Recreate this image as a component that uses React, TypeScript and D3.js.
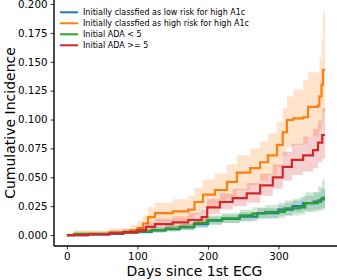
import { useEffect, useRef } from 'react'
import * as d3 from 'd3'

// step curves: [day, estimate, lower, upper]
const lowRisk: [number, number, number, number][] = [
  [0, 0, 0, 0], [30, 0.0005, 0, 0.002], [60, 0.001, 0.0002, 0.003], [80, 0.002, 0.0008, 0.004],
  [100, 0.0028, 0.0012, 0.005], [120, 0.004, 0.002, 0.0065], [140, 0.005, 0.003, 0.008],
  [160, 0.0065, 0.004, 0.0095], [180, 0.0095, 0.006, 0.013], [200, 0.0125, 0.009, 0.016],
  [220, 0.014, 0.0105, 0.0175], [245, 0.016, 0.012, 0.02], [270, 0.019, 0.0145, 0.0235],
  [300, 0.022, 0.017, 0.028], [320, 0.025, 0.0195, 0.031], [335, 0.0277, 0.021, 0.034],
  [350, 0.029, 0.022, 0.037], [360, 0.031, 0.023, 0.04], [366, 0.031, 0.023, 0.04],
]
const highRisk: [number, number, number, number][] = [
  [0, 0, 0, 0], [10, 0.001, 0, 0.004], [60, 0.002, 0.0005, 0.006], [90, 0.004, 0.001, 0.009],
  [100, 0.006, 0.002, 0.012], [108, 0.01, 0.005, 0.017], [115, 0.0155, 0.008, 0.024],
  [125, 0.019, 0.011, 0.028], [150, 0.0205, 0.012, 0.031], [172, 0.022, 0.013, 0.034],
  [181, 0.0286, 0.018, 0.041], [193, 0.035, 0.023, 0.048], [210, 0.039, 0.027, 0.053],
  [227, 0.046, 0.032, 0.061], [241, 0.054, 0.039, 0.069], [260, 0.058, 0.043, 0.075],
  [274, 0.063, 0.047, 0.081], [285, 0.069, 0.052, 0.088], [298, 0.078, 0.059, 0.098],
  [306, 0.089, 0.068, 0.11], [312, 0.0996, 0.076, 0.12], [321, 0.101, 0.078, 0.126],
  [335, 0.102, 0.079, 0.134], [342, 0.111, 0.085, 0.141], [356, 0.112, 0.086, 0.141],
  [358, 0.12, 0.092, 0.153], [361, 0.13, 0.098, 0.17], [363, 0.143, 0.106, 0.193],
  [366, 0.143, 0.106, 0.193],
]
const adaLow: [number, number, number, number][] = [
  [0, 0, 0, 0], [10, 0.0008, 0, 0.003], [60, 0.0015, 0.0003, 0.004], [80, 0.0022, 0.001, 0.0045],
  [100, 0.003, 0.0015, 0.0055], [120, 0.0042, 0.0025, 0.007], [140, 0.0055, 0.0035, 0.0085],
  [160, 0.007, 0.0045, 0.01], [181, 0.0104, 0.007, 0.014], [199, 0.013, 0.009, 0.017],
  [220, 0.0145, 0.0105, 0.019], [245, 0.017, 0.012, 0.022], [263, 0.0185, 0.0135, 0.024],
  [281, 0.02, 0.0145, 0.026], [309, 0.023, 0.017, 0.03], [330, 0.024, 0.0175, 0.033],
  [338, 0.0277, 0.02, 0.037], [356, 0.03, 0.021, 0.042], [362, 0.0325, 0.022, 0.048],
  [366, 0.0325, 0.022, 0.048],
]
const adaHigh: [number, number, number, number][] = [
  [0, 0, 0, 0], [30, 0.0005, 0, 0.002], [60, 0.0015, 0.0004, 0.004], [80, 0.0025, 0.001, 0.005],
  [100, 0.004, 0.002, 0.007], [112, 0.007, 0.004, 0.011], [125, 0.0095, 0.006, 0.014],
  [150, 0.011, 0.007, 0.016], [172, 0.013, 0.009, 0.019], [191, 0.0155, 0.011, 0.022],
  [199, 0.024, 0.018, 0.031], [217, 0.0286, 0.022, 0.036], [235, 0.032, 0.025, 0.04],
  [255, 0.036, 0.028, 0.045], [274, 0.043, 0.034, 0.053], [292, 0.05, 0.04, 0.061],
  [306, 0.059, 0.047, 0.072], [319, 0.065, 0.052, 0.079], [335, 0.069, 0.055, 0.085],
  [349, 0.0736, 0.058, 0.092], [356, 0.08, 0.063, 0.099], [362, 0.0866, 0.066, 0.11],
  [366, 0.0866, 0.066, 0.11],
]

const seriesNames = [
  'Initially classfied as low risk for high A1c',
  'Initially classfied as high risk for high A1c',
  'Initial ADA < 5',
  'Initial ADA >= 5',
]
const seriesData = [lowRisk, highRisk, adaLow, adaHigh]
const colors = ['#1f77b4', '#ff7f0e', '#2ca02c', '#d62728']
const xTicks = [0, 100, 200, 300]
const yTicks = [0, 0.025, 0.05, 0.075, 0.1, 0.125, 0.15, 0.175, 0.2]

export default function App() {
  const ref = useRef<SVGSVGElement | null>(null)

  useEffect(() => {
    const svg = d3.select(ref.current)
    svg.selectAll('*').remove()

    const left = 54
    const right = 337
    const top = 0
    const bottom = 246

    const x = d3.scaleLinear().domain([-18.3, 383]).range([left, right])
    const y = d3.scaleLinear().domain([-0.0095, 0.2035]).range([bottom, top])

    const chart = svg.append('g')

    seriesData.forEach((data, i) => {
      const area = d3
        .area<[number, number, number, number]>()
        .curve(d3.curveStepAfter)
        .x((d) => x(d[0]))
        .y0((d) => y(d[2]))
        .y1((d) => y(d[3]))
      chart
        .append('path')
        .datum(data)
        .attr('d', area)
        .attr('fill', colors[i])
        .attr('fill-opacity', 0.22)

      const line = d3
        .line<[number, number, number, number]>()
        .curve(d3.curveStepAfter)
        .x((d) => x(d[0]))
        .y((d) => y(d[1]))
      chart
        .append('path')
        .datum(data)
        .attr('d', line)
        .attr('fill', 'none')
        .attr('stroke', colors[i])
        .attr('stroke-width', 2.2)
    })

    const font = 'DejaVu Sans, sans-serif'

    const xAxis = svg
      .append('g')
      .attr('transform', `translate(0,${bottom})`)
      .call(d3.axisBottom(x).tickValues(xTicks).tickSize(3.5).tickPadding(3.5).tickFormat(d3.format('d')))
    xAxis.select('.domain').attr('stroke-width', 1.4).attr('d', `M${left},0H${right}`)

    const yAxis = svg
      .append('g')
      .attr('transform', `translate(${left},0)`)
      .call(d3.axisLeft(y).tickValues(yTicks).tickSize(3.5).tickPadding(3).tickFormat(d3.format('.3f')))
    yAxis.select('.domain').attr('stroke-width', 1.4).attr('d', `M0,${top}V${bottom}`)

    svg.selectAll('.tick text').attr('font-family', font).attr('font-size', 10.3).attr('fill', '#000')
    svg.selectAll('.tick line').attr('stroke', '#000').attr('stroke-width', 0.8)

    svg
      .append('text')
      .attr('x', (left + right) / 2 - 1)
      .attr('y', 276)
      .attr('text-anchor', 'middle')
      .attr('font-family', font)
      .attr('font-size', 14)
      .text('Days since 1st ECG')

    svg
      .append('text')
      .attr('transform', `translate(15,${(top + bottom) / 2}) rotate(-90)`)
      .attr('text-anchor', 'middle')
      .attr('font-family', font)
      .attr('font-size', 14)
      .text('Cumulative Incidence')

    const legend = svg.append('g')
    seriesNames.forEach((name, i) => {
      const ly = 12.3 + i * 11
      legend
        .append('line')
        .attr('x1', 60)
        .attr('x2', 78)
        .attr('y1', ly)
        .attr('y2', ly)
        .attr('stroke', colors[i])
        .attr('stroke-width', 2)
      legend
        .append('text')
        .attr('x', 83)
        .attr('y', ly)
        .attr('dy', '0.35em')
        .attr('font-family', font)
        .attr('font-size', 8)
        .text(name)
    })
  }, [])

  return (
    <svg
      width={337}
      height={280}
      ref={ref}
      style={{ position: 'absolute', left: 0, top: 0, background: '#fff' }}
    />
  )
}
